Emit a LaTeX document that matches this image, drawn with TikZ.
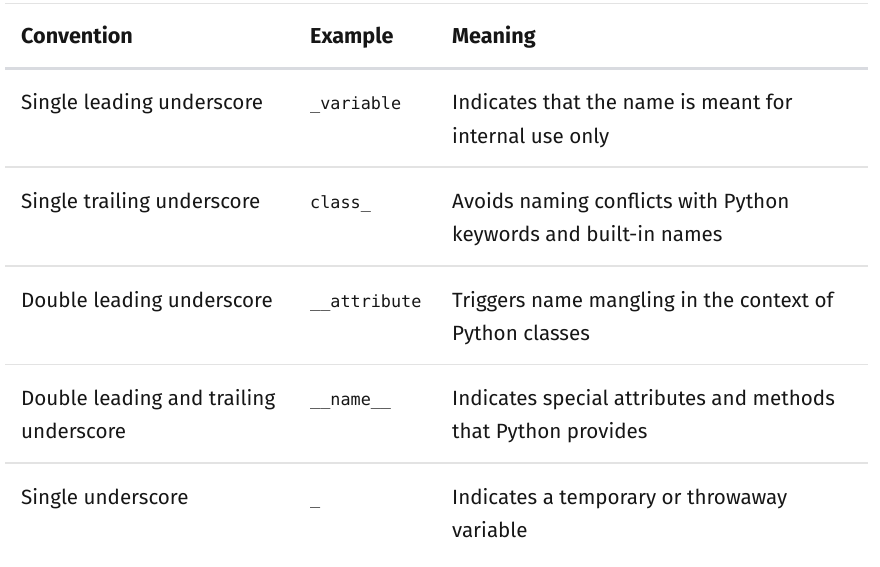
\documentclass[tikz,border=0pt]{standalone}
\usepackage{fontspec}
\setmainfont{Fira Sans}
\setmonofont{DejaVu Sans Mono}
\definecolor{txt}{HTML}{161616}
\definecolor{rule}{HTML}{E3E3E3}
\definecolor{hrule}{HTML}{D9DBE0}
\begin{document}
\begin{tikzpicture}[x=1pt,y=-1pt,
  cell/.style={anchor=base west,inner sep=0pt,text=txt,font=\fontsize{20.6}{33}\selectfont},
  head/.style={cell,font=\fontsize{21.6}{33}\selectfont\bfseries},
  code/.style={anchor=base west,inner sep=0pt,text=txt,font=\fontsize{16.8}{33}\ttfamily},
  thin/.style={draw=rule,line width=1.2pt},
  thick/.style={draw=hrule,line width=2.2pt}]
\useasboundingbox[fill=white] (0,0) rectangle (880,567);
% rules
\coordinate (l0) at (5,3.5); \coordinate (r0) at (868,3.5);
\coordinate (l1) at (5,68.5); \coordinate (r1) at (868,68.5);
\coordinate (l2) at (5,167); \coordinate (r2) at (868,167);
\coordinate (l3) at (5,266); \coordinate (r3) at (868,266);
\coordinate (l4) at (5,364.5); \coordinate (r4) at (868,364.5);
\coordinate (l5) at (5,463); \coordinate (r5) at (868,463);
\draw[thin] (l0) -- (r0);
\draw[thick] (l1) -- (r1);
\draw[thin] (l2) -- (r2);
\draw[thin] (l3) -- (r3);
\draw[thin] (l4) -- (r4);
\draw[thin] (l5) -- (r5);
% header
\node[head] (h1) at (21,44) {Convention};
\node[head] (h2) at (310,44) {Example};
\node[head] (h3) at (452,44) {Meaning};
% row 1
\node[cell] (a1) at (21,110) {Single leading underscore};
\node[code] (b1) at (310,110) {\_variable};
\node[cell] (c1) at (452,110) {Indicates that the name is meant for};
\node[cell] (c1b) at (452,143) {internal use only};
% row 2
\node[cell] (a2) at (21,208.5) {Single trailing underscore};
\node[code] (b2) at (310,208.5) {class\_};
\node[cell] (c2) at (452,208.5) {Avoids naming conflicts with Python};
\node[cell] (c2b) at (452,241.5) {keywords and built-in names};
% row 3
\node[cell] (a3) at (21,307) {Double leading underscore};
\node[code] (b3) at (310,307) {\_\_attribute};
\node[cell] (c3) at (452,307) {Triggers name mangling in the context of};
\node[cell] (c3b) at (452,340) {Python classes};
% row 4
\node[cell] (a4) at (21,405.5) {Double leading and trailing};
\node[cell] (a4b) at (21,438.5) {underscore};
\node[code] (b4) at (310,405.5) {\_\_name\_\_};
\node[cell] (c4) at (452,405.5) {Indicates special attributes and methods};
\node[cell] (c4b) at (452,438.5) {that Python provides};
% row 5
\node[cell] (a5) at (21,504) {Single underscore};
\node[code] (b5) at (310,504) {\_};
\node[cell] (c5) at (452,504) {Indicates a temporary or throwaway};
\node[cell] (c5b) at (452,537) {variable};
\end{tikzpicture}
\end{document}
